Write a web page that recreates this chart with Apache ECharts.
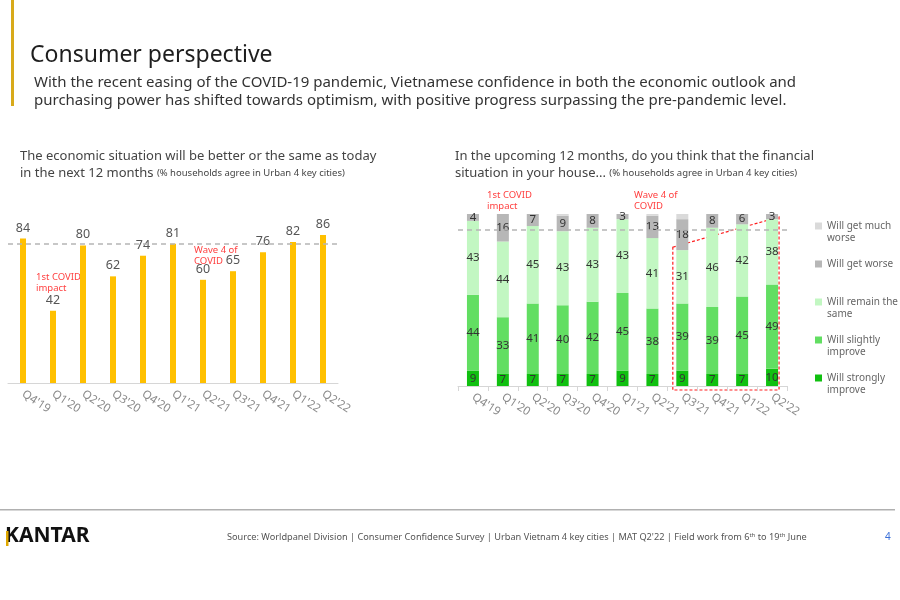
<!DOCTYPE html>
<html><head><meta charset="utf-8">
<script src="https://cdn.jsdelivr.net/npm/echarts@6/dist/echarts.min.js"></script>
<style>html,body{margin:0;padding:0;background:#fff}#c{width:900px;height:600px}</style>
</head><body><div id="c"></div><script>
const quarters = ["Q4'19","Q1'20","Q2'20","Q3'20","Q4'20","Q1'21","Q2'21","Q3'21","Q4'21","Q1'22","Q2'22"];
const economyBetterSame = [84,42,80,62,74,81,60,65,76,82,86];
const economyRefLevel = 81;
const strongImprove = [9,7,7,7,7,9,7,9,7,7,10];
const slightImprove = [44,33,41,40,42,45,38,39,39,45,49];
const remainSame = [43,44,45,43,43,43,41,31,46,42,38];
const getWorse = [4,16,7,9,8,3,13,18,8,6,3];
const muchWorse = [0,0,0,1,0,0,1,3,0,0,0];
const financeRefLevel = 91;
const seriesNames = ["Will get much worse","Will get worse","Will remain the same","Will slightly improve","Will strongly improve"];
const legendLabels = {"Will get much worse":"Will get much\nworse","Will get worse":"Will get worse",
  "Will remain the same":"Will remain the\nsame","Will slightly improve":"Will slightly\nimprove",
  "Will strongly improve":"Will strongly\nimprove"};

const FONT = '"Noto Sans"';
const chart = echarts.init(document.getElementById('c'));
const stackLabel = {show:true, position:'inside', color:'#333', fontSize:11.5, fontFamily:FONT,
  formatter: p => p.value > 0 ? p.value : ''};
function stackSeries(name, data, color, label){
  return {name, type:'bar', stack:'fin', xAxisIndex:1, yAxisIndex:1, data, barWidth:12,
    itemStyle:{color}, label: label ? stackLabel : {show:false}, emphasis:{disabled:true}};
}
chart.setOption({
  animation:false,
  textStyle:{fontFamily:FONT},
  grid:[
    {left:8, right:562, top:211, bottom:217},
    {left:458, right:113, top:214, bottom:214}
  ],
  xAxis:[
    {type:'category', gridIndex:0, data:quarters,
     axisLine:{lineStyle:{color:'#d6d6d6'}}, axisTick:{show:false},
     axisLabel:{rotate:-33, color:'#8a8a8a', fontSize:11.5, fontFamily:FONT, margin:10, interval:0}},
    {type:'category', gridIndex:1, data:quarters,
     axisLine:{lineStyle:{color:'#d6d6d6'}}, axisTick:{show:true, length:5, lineStyle:{color:'#d6d6d6'}},
     axisLabel:{rotate:-33, color:'#8a8a8a', fontSize:11.5, fontFamily:FONT, margin:10, interval:0}}
  ],
  yAxis:[
    {type:'value', gridIndex:0, min:0, max:100, show:false},
    {type:'value', gridIndex:1, min:0, max:100, show:false}
  ],
  legend:{
    orient:'vertical', left:815, top:208, padding:0, itemWidth:7, itemHeight:7, itemGap:2,
    icon:'rect', selectedMode:false,
    textStyle:{color:'#666', fontSize:10, fontFamily:FONT, lineHeight:12},
    formatter: n => { const t = legendLabels[n]; return t.indexOf('\n') >= 0 ? ' \n' + t : ' \n' + t + '\n '; },
    data: seriesNames
  },
  series:[
    {type:'bar', xAxisIndex:0, yAxisIndex:0, data:economyBetterSame, barWidth:6,
     itemStyle:{color:'#ffc000'}, emphasis:{disabled:true},
     label:{show:true, position:'top', distance:4, color:'#555', fontSize:12.5, fontFamily:FONT},
     markLine:{silent:true, symbol:'none', label:{show:false},
       lineStyle:{type:[5,4], color:'#b5b5b5', width:1.5}, data:[{yAxis:economyRefLevel}]}},
    stackSeries(seriesNames[4], strongImprove, '#10c010', true),
    stackSeries(seriesNames[3], slightImprove, '#62de62', true),
    stackSeries(seriesNames[2], remainSame, '#c2f7c2', true),
    stackSeries(seriesNames[1], getWorse, '#b7b7b7', true),
    Object.assign(stackSeries(seriesNames[0], muchWorse, '#dadada', false), {
      markLine:{silent:true, symbol:'none', label:{show:false},
        lineStyle:{type:[5,4], color:'#b5b5b5', width:1.5}, data:[{yAxis:financeRefLevel}]}})
  ]
});

// annotations
const red = '#ff4040';
const i1 = quarters.indexOf("Q3'21"), i2 = quarters.length - 1;
const greenTop = i => strongImprove[i] + slightImprove[i] + remainSame[i];
const pTL = chart.convertToPixel({xAxisIndex:1, yAxisIndex:1}, [i1, greenTop(i1)]);
const pTR = chart.convertToPixel({xAxisIndex:1, yAxisIndex:1}, [i2, 100]);
const pB = chart.convertToPixel({xAxisIndex:1, yAxisIndex:1}, [i2, 0]);
const xl = pTL[0] - 9.5, xr = pTR[0] + 7, yb = pB[1] + 4;
chart.setOption({
  graphic:[
    {type:'rect', left:11, top:0, shape:{width:3, height:106}, style:{fill:'#d8aa1a'}},
    {type:'text', left:30, top:44, style:{text:'Consumer perspective', font:'23px '+FONT, fill:'#1e1e1e'}},
    {type:'text', left:34, top:74, style:{text:'With the recent easing of the COVID-19 pandemic, Vietnamese confidence in both the economic outlook and\npurchasing power has shifted towards optimism, with positive progress surpassing the pre-pandemic level.',
      font:'15px '+FONT, fill:'#333', lineHeight:18}},
    {type:'text', left:20, top:148, style:{text:'The economic situation will be better or the same as today\nin the next 12 months {s|(% households agree in Urban 4 key cities)}',
      font:'13px '+FONT, fill:'#444', lineHeight:17, rich:{s:{fontSize:9.5, fontFamily:FONT, fill:'#444'}}}},
    {type:'text', left:455, top:148, style:{text:'In the upcoming 12 months, do you think that the financial\nsituation in your house... {s|(% households agree in Urban 4 key cities)}',
      font:'13px '+FONT, fill:'#444', lineHeight:17, rich:{s:{fontSize:9.5, fontFamily:FONT, fill:'#444'}}}},
    {type:'text', left:36, top:272, style:{text:'1st COVID\nimpact', font:'9.5px '+FONT, fill:red, lineHeight:11}},
    {type:'text', left:194, top:245, style:{text:'Wave 4 of\nCOVID', font:'9.5px '+FONT, fill:red, lineHeight:11}},
    {type:'text', left:487, top:190, style:{text:'1st COVID\nimpact', font:'9.5px '+FONT, fill:red, lineHeight:11}},
    {type:'text', left:634, top:190, style:{text:'Wave 4 of\nCOVID', font:'9.5px '+FONT, fill:red, lineHeight:11}},
    {type:'polygon', shape:{points:[[xl, pTL[1]-3],[xr, pTR[1]+3],[xr, yb],[xl, yb]]},
      style:{fill:'none', stroke:'#ff2020', lineWidth:1.2, lineDash:[3,2]}},
    {type:'rect', left:0, top:509, shape:{width:895, height:1.5}, style:{fill:'#b0b0b0'}},
    {type:'text', left:5, top:526, style:{text:'KANTAR', font:'bold 21px '+FONT, fill:'#111'}},
    {type:'rect', left:6, top:531, shape:{width:2.5, height:15}, style:{fill:'#e0a800'}},
    {type:'text', left:227, top:532, style:{text:'Source: Worldpanel Division | Consumer Confidence Survey | Urban Vietnam 4 key cities | MAT Q2\'22 | Field work from 6{sup|th} to 19{sup|th} June',
      font:'9.2px '+FONT, fill:'#555', rich:{sup:{fontSize:6, fontFamily:FONT, fill:'#555', verticalAlign:'top', padding:[0,0,5,0]}}}},
    {type:'text', left:885, top:532, style:{text:'4', font:'10px '+FONT, fill:'#3a6fd8'}}
  ]
});
</script></body></html>
